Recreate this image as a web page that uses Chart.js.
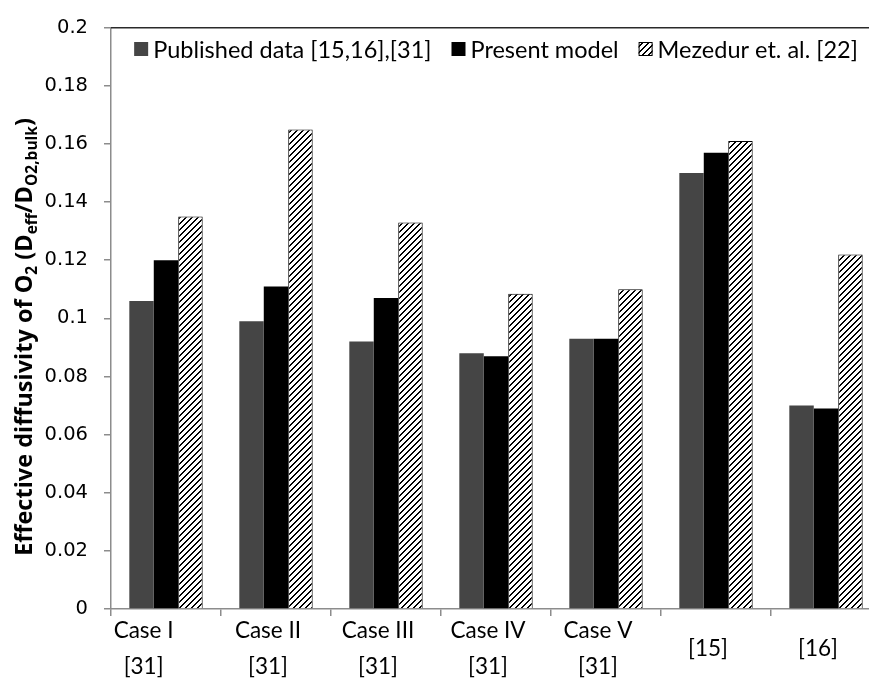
<!DOCTYPE html>
<html>
<head>
<meta charset="utf-8">
<script src="https://cdn.jsdelivr.net/npm/chart.js@4.4.1/dist/chart.umd.min.js"></script>
<style>
  html, body { margin: 0; padding: 0; background: #fff; overflow: hidden; }
  canvas { display: block; }
</style>
</head>
<body>
<canvas id="c" width="900" height="687"></canvas>
<script>
// Categories (multi-line labels) and series
const categories = [
  ['Case I     ', '[31]     '], ['Case II', '[31]'], ['Case III', '[31]'],
  ['Case IV', '[31]'], ['Case V', '[31]'], '[15]', '[16]'
];
const seriesNames = ['Published data [15,16],[31]', 'Present model', 'Mezedur et. al. [22]'];
const publishedData = [0.106, 0.099, 0.092, 0.088, 0.093, 0.150, 0.070];
const presentModel  = [0.120, 0.111, 0.107, 0.087, 0.093, 0.157, 0.069];
const mezedurModel  = [0.135, 0.165, 0.133, 0.1085, 0.110, 0.161, 0.122];
const yTickLabels = ['0', '0.02', '0.04', '0.06', '0.08', '0.1', '0.12', '0.14', '0.16', '0.18', '0.2'];

// Y-axis title pieces: [text, isSubscript]
const yTitleParts = [
  ['Effective diffusivity of O', false], ['2', true], [' (D', false],
  ['eff', true], ['/D', false], ['O2,bulk', true], [')', false]
];

const canvas = document.getElementById('c');
const ctx = canvas.getContext('2d');

// Upward diagonal hatch fill
function makeHatch() {
  const t = document.createElement('canvas');
  t.width = 6; t.height = 6;
  const g = t.getContext('2d');
  g.fillStyle = '#fff';
  g.fillRect(0, 0, 6, 6);
  g.fillStyle = '#000';
  for (let x = 0; x < 6; x++) {
    for (let y = 0; y < 6; y++) {
      if ((x + y) % 6 < 2) g.fillRect(x, y, 1, 1);
    }
  }
  return ctx.createPattern(t, 'repeat');
}
const hatch = makeHatch();

const AXIS_GREY = '#8c8c8c';

// Legend drawn inside the plot area, centred along its top
const insideLegend = {
  id: 'insideLegend',
  afterDraw(chart) {
    const c = chart.ctx, ca = chart.chartArea;
    const font = '23.5px Lato';
    const box = 14, gapText = 5, gapItem = 20, cy = 49;
    c.save();
    c.font = font;
    const items = chart.data.datasets.map(ds => {
      const w = c.measureText(ds.label).width;
      return { ds, w, total: box + gapText + w };
    });
    const total = items.reduce((s, it) => s + it.total, 0) + gapItem * (items.length - 1);
    let x = (ca.left + ca.right) / 2 - total / 2;
    c.textBaseline = 'middle';
    c.textAlign = 'left';
    items.forEach(it => {
      c.fillStyle = it.ds.backgroundColor;
      c.fillRect(x, cy - box / 2, box, box);
      if (it.ds.borderWidth) {
        c.strokeStyle = it.ds.borderColor;
        c.lineWidth = 1;
        c.strokeRect(x + 0.5, cy - box / 2 + 0.5, box - 1, box - 1);
      }
      c.fillStyle = '#000';
      c.fillText(it.ds.label, x + box + gapText, cy + 1);
      x += it.total + gapItem;
    });
    c.restore();
  }
};

// Top border of the plot area
const topBorder = {
  id: 'topBorder',
  afterDraw(chart) {
    const c = chart.ctx, ca = chart.chartArea;
    c.save();
    c.strokeStyle = '#2a2a2a';
    c.lineWidth = 1.5;
    c.beginPath();
    c.moveTo(ca.left, ca.top);
    c.lineTo(ca.right, ca.top);
    c.stroke();
    c.restore();
  }
};

// Rotated y-axis title with subscripts
const yTitle = {
  id: 'yTitle',
  afterDraw(chart) {
    const c = chart.ctx;
    const mainFont = 'bold 23.5px "Open Sans"', subFont = 'bold 15.5px "Open Sans"';
    c.save();
    let total = 0;
    const widths = yTitleParts.map(([t, sub]) => {
      c.font = sub ? subFont : mainFont;
      const w = c.measureText(t).width;
      total += w;
      return w;
    });
    c.translate(32, 337);
    c.rotate(-Math.PI / 2);
    c.fillStyle = '#000';
    c.textBaseline = 'alphabetic';
    c.textAlign = 'left';
    let x = -total / 2;
    yTitleParts.forEach(([t, sub], i) => {
      c.font = sub ? subFont : mainFont;
      c.fillText(t, x, sub ? 5 : 0);
      x += widths[i];
    });
    c.restore();
  }
};

new Chart(ctx, {
  type: 'bar',
  data: {
    labels: categories,
    datasets: [
      { label: seriesNames[0], data: publishedData, backgroundColor: '#454545', borderWidth: 0 },
      { label: seriesNames[1], data: presentModel, backgroundColor: '#000000', borderWidth: 0 },
      { label: seriesNames[2], data: mezedurModel, backgroundColor: hatch, borderColor: '#000000', borderWidth: 1 }
    ]
  },
  options: {
    responsive: false,
    animation: false,
    layout: { padding: { top: 21, right: 19, left: 0, bottom: 0 } },
    datasets: { bar: { categoryPercentage: 0.667, barPercentage: 1.0 } },
    plugins: { legend: { display: false }, tooltip: { enabled: false } },
    scales: {
      x: {
        offset: true,
        grid: { offset: true, drawOnChartArea: false, drawTicks: true, tickLength: 7, color: AXIS_GREY, lineWidth: 1.5 },
        border: { display: true, color: AXIS_GREY, width: 1.5 },
        ticks: {
          font: { family: 'Lato', size: 22.5, lineHeight: 36 / 22.5 },
          color: '#000', padding: 15, crossAlign: 'center',
          maxRotation: 0, autoSkip: false, labelOffset: -8
        },
        afterFit(s) { s.height = 78; }
      },
      y: {
        min: 0, max: 0.2,
        ticks: {
          stepSize: 0.02,
          callback: (v, i) => yTickLabels[i],
          font: { family: 'DejaVu Sans', size: 19.5 },
          color: '#000', padding: 16
        },
        grid: { drawOnChartArea: false, tickLength: 7, color: AXIS_GREY, lineWidth: 1.5 },
        border: { display: true, color: AXIS_GREY, width: 1.5 },
        afterFit(s) { s.width = 111; }
      }
    }
  },
  plugins: [insideLegend, topBorder, yTitle]
});
</script>
</body>
</html>
